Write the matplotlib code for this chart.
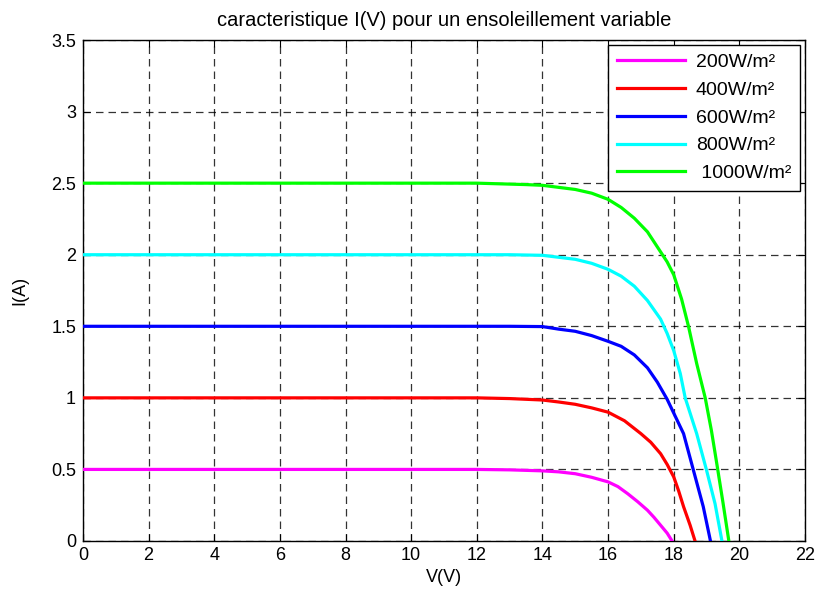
import matplotlib
matplotlib.use("Agg")
import matplotlib.pyplot as plt

# I(V) curves, one (V, I) list pair per irradiance
V_200 = [0, 12, 13, 14, 14.5, 15, 15.5, 16, 16.3, 16.6, 16.9, 17.2, 17.4, 17.6, 17.8, 17.95]
I_200 = [0.5, 0.5, 0.497, 0.49, 0.483, 0.47, 0.445, 0.413, 0.38, 0.33, 0.275, 0.215, 0.165, 0.11, 0.055, 0.0]

V_400 = [0, 12, 13, 14, 14.5, 15, 15.5, 16, 16.5, 17, 17.3, 17.6, 17.8, 18, 18.15, 18.3, 18.5, 18.65]
I_400 = [1.0, 1.0, 0.995, 0.985, 0.971, 0.955, 0.93, 0.90, 0.84, 0.75, 0.69, 0.61, 0.535, 0.448, 0.35, 0.24, 0.11, 0.0]

V_600 = [0, 12, 13, 14, 14.5, 15, 15.5, 16, 16.4, 16.8, 17.2, 17.5, 17.8, 18.05, 18.3, 18.6, 18.9, 19.12]
I_600 = [1.5, 1.5, 1.5, 1.498, 1.48, 1.465, 1.435, 1.395, 1.36, 1.30, 1.21, 1.11, 0.99, 0.87, 0.75, 0.495, 0.24, 0.0]

V_800 = [0, 12, 13, 14, 15, 15.5, 16, 16.4, 16.8, 17.2, 17.6, 17.8, 18, 18.2, 18.35, 18.7, 19.0, 19.26, 19.47]
I_800 = [2.0, 2.0, 2.0, 1.996, 1.968, 1.94, 1.898, 1.85, 1.78, 1.68, 1.55, 1.45, 1.33, 1.17, 1.0, 0.75, 0.495, 0.26, 0.0]

V_1000 = [0, 12, 13.5, 14, 15, 15.5, 16, 16.4, 16.8, 17.2, 17.6, 17.8, 18, 18.24, 18.45, 18.7, 18.96, 19.15, 19.32, 19.5, 19.68]
I_1000 = [2.5, 2.5, 2.49, 2.485, 2.456, 2.43, 2.387, 2.33, 2.255, 2.16, 2.02, 1.95, 1.86, 1.69, 1.5, 1.24, 1.0, 0.77, 0.53, 0.27, 0.0]

LABELS = ["200W/m²", "400W/m²", "600W/m²", "800W/m²", " 1000W/m²"]
COLORS = ["#FF00FF", "#FF0000", "#0000FF", "#00FFFF", "#00FF00"]

X_TICKS = list(range(0, 23, 2))
Y_TICKS = [0, 0.5, 1, 1.5, 2, 2.5, 3, 3.5]
Y_TICK_LABELS = ["0", "0.5", "1", "1.5", "2", "2.5", "3", "3.5"]

plt.rcParams.update({
    "font.family": ["Liberation Sans", "DejaVu Sans"],
    "font.size": 13,
})

fig = plt.figure(figsize=(8.16, 5.93), dpi=100)
ax = fig.add_axes([0.1017, 0.0877, 0.8848, 0.8448])

curves = [(V_200, I_200), (V_400, I_400), (V_600, I_600), (V_800, I_800), (V_1000, I_1000)]
for (v, i), lab, col in zip(curves, LABELS, COLORS):
    ax.plot(v, i, color=col, linewidth=2.3, label=lab, zorder=3,
            solid_joinstyle="round")

ax.set_xlim(0, 22)
ax.set_ylim(0, 3.5)
ax.set_xticks(X_TICKS)
ax.set_yticks(Y_TICKS)
ax.set_yticklabels(Y_TICK_LABELS)
ax.tick_params(direction="in", length=5, width=0.8, top=True, right=True,
               labelsize=13, colors="black")
ax.tick_params(axis="y", pad=5)
ax.tick_params(axis="x", pad=4)
ax.grid(True, color="black", linestyle=(0, (6, 4)), linewidth=0.9, alpha=0.8, zorder=1)
for sp in ax.spines.values():
    sp.set_linewidth(1.0)
    sp.set_color("black")

ax.set_title("caracteristique I(V) pour un ensoleillement variable", fontsize=14.5, pad=10)
ax.set_xlabel("V(V)", fontsize=13, labelpad=4)
ax.set_ylabel("I(A)", fontsize=13, labelpad=16)

leg = ax.legend(loc="upper right", fontsize=14, frameon=True, fancybox=False,
                edgecolor="black", framealpha=1, handlelength=3.5,
                borderaxespad=0.25, borderpad=0.45, labelspacing=0.52,
                handletextpad=0.55)
leg.get_frame().set_linewidth(1.0)

fig.savefig("out.png", dpi=100, facecolor="white")
